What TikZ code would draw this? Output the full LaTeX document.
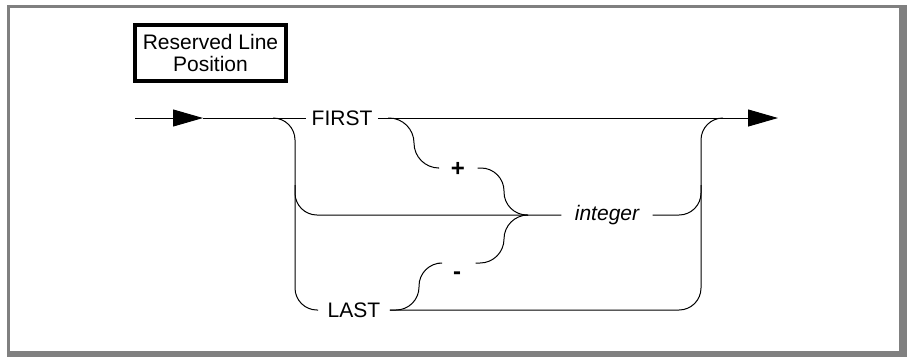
\documentclass[tikz,border=0pt]{standalone}
\usepackage{fontspec}
\setmainfont{Liberation Sans}
\usetikzlibrary{arrows.meta}
\definecolor{framegray}{RGB}{128,128,128}
\begin{document}
\begin{tikzpicture}[x=1pt,y=-1pt,line width=1pt,
  lbl/.style={font=\fontsize{21}{22}\selectfont, inner ysep=0pt, inner xsep=5pt, anchor=base},
  sym/.style={font=\fontsize{24}{24}\selectfont\bfseries, inner ysep=0pt, anchor=base},
  rr/.style={rounded corners=22pt},
  rs/.style={rounded corners=23pt},
  head/.style={-{Triangle[length=30pt,width=17pt]}}]
\useasboundingbox (0,0) rectangle (909,357);
\fill[framegray] (7,5) rectangle (907,357);
\fill[white] (10,7.5) rectangle (899,351);

% title box
\node[draw, line width=3.5pt, minimum width=151pt, minimum height=56pt, inner sep=0pt,
      align=center, font=\fontsize{21}{21.7}\selectfont] (title) at (210.5,53) {Reserved Line\\Position};

% coordinates
\coordinate (in) at (135,118);
\coordinate (a1) at (203,118);
\coordinate (out) at (778,118);
\coordinate (mid) at (528,215);

% text nodes
\node[lbl] (first) at (342,125.5) {FIRST};
\node[lbl, font=\fontsize{21}{22}\selectfont\itshape, inner xsep=13pt] (int) at (607,220.5) {integer};
\node[lbl, inner xsep=9pt] (last) at (354,317.5) {LAST};
\node[sym, inner xsep=12pt] (plus) at (458,176.5) {+};
\node[sym, inner xsep=14pt] (minus) at (457,279) {-};

% main line
\draw[head] (in) -- (a1);
\draw (a1) -- (first.west |- a1);
\draw[head] (first.east |- a1) -- (out);

% left branch
\draw[rr] (273,118) -- (295,118) -- (295,310) -- (last.west |- 0,310);
\draw[rr] (295,185) -- (295,215) -- (int.west |- mid);

% plus loop
\draw[rounded corners=25pt] (388,118) -- (414,118) -- (414,168) -- (plus.west |- 0,168);
\draw[rs] (plus.east |- 0,168) -- (504,168) -- (504,215) -- (mid);

% minus loop
\draw[rs] (last.east |- 0,310) -- (419,310) -- (419,263) -- (minus.west |- 0,263);
\draw[rounded corners=24pt] (minus.east |- 0,263) -- (504,263) -- (504,215) -- (mid);

% right branch
\draw[rr] (last.east |- 0,310) -- (701,310) -- (701,118) -- (723,118);
\draw[rr] (int.east |- mid) -- (701,215) -- (701,185);
\end{tikzpicture}
\end{document}
